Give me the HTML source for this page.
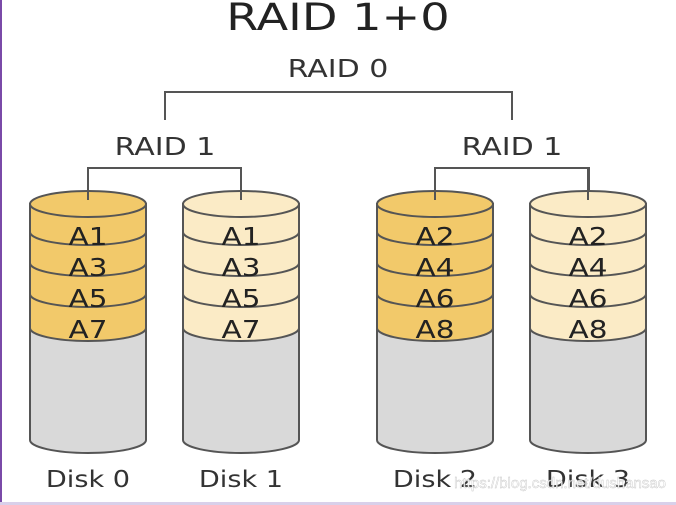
<!DOCTYPE html>
<html><head><meta charset="utf-8"><style>
html,body{margin:0;padding:0;background:#fff;}
svg{display:block;}
</style></head><body>
<svg width="676" height="505" viewBox="0 0 676 505" xmlns="http://www.w3.org/2000/svg" font-family="DejaVu Sans, Liberation Sans, sans-serif">
<rect x="0" y="0" width="676" height="505" fill="#fff"/>
<rect x="0" y="0" width="2" height="505" fill="#7a4aa8"/>
<rect x="0" y="502" width="676" height="3" fill="#d9d0ea"/>
<text transform="translate(338 30) scale(1.25 1)" font-size="37" text-anchor="middle" fill="#222">RAID 1+0</text>
<text transform="translate(338 77) scale(1.2 1)" font-size="25" text-anchor="middle" fill="#333">RAID 0</text>
<path d="M165 120 V92 H512 V120" fill="none" stroke="#555" stroke-width="2"/>
<text transform="translate(165 155) scale(1.2 1)" font-size="25" text-anchor="middle" fill="#333">RAID 1</text>
<text transform="translate(512 155) scale(1.2 1)" font-size="25" text-anchor="middle" fill="#333">RAID 1</text>
<g fill="none" stroke="#555" stroke-width="2">
<path d="M88 200 V168 H241 V190"/>
<path d="M435 200 V168 H589 V190"/>
</g>
<g transform="translate(30,0)">
<path d="M0 204 V440 A58 13 0 0 0 116 440 V204 Z" fill="#d9d9d9" stroke="#555" stroke-width="2"/>
<path d="M0 204 V328 A58 13 0 0 0 116 328 V204 Z" fill="#f2c96a" stroke="none"/>
<path d="M0 328 A58 13 0 0 0 116 328" fill="none" stroke="#555" stroke-width="2"/>
<path d="M0 232 A58 13 0 0 0 116 232 M0 263 A58 13 0 0 0 116 263 M0 294 A58 13 0 0 0 116 294" fill="none" stroke="#555" stroke-width="2"/>
<ellipse cx="58" cy="204" rx="58" ry="13" fill="#f2c96a" stroke="#555" stroke-width="2"/>
<path d="M0 204 V440 M116 204 V440" stroke="#555" stroke-width="2"/>
<path d="M58 200 V168" stroke="#555" stroke-width="2"/>
<g font-size="25" text-anchor="middle" fill="#222"><text transform="translate(58 245) scale(1.18 1)">A1</text><text transform="translate(58 276) scale(1.18 1)">A3</text><text transform="translate(58 307) scale(1.18 1)">A5</text><text transform="translate(58 338) scale(1.18 1)">A7</text></g>
<text transform="translate(58 487) scale(1.18 1)" font-size="23" text-anchor="middle" fill="#333">Disk 0</text>
</g>
<g transform="translate(183,0)">
<path d="M0 204 V440 A58 13 0 0 0 116 440 V204 Z" fill="#d9d9d9" stroke="#555" stroke-width="2"/>
<path d="M0 204 V328 A58 13 0 0 0 116 328 V204 Z" fill="#fbebc6" stroke="none"/>
<path d="M0 328 A58 13 0 0 0 116 328" fill="none" stroke="#555" stroke-width="2"/>
<path d="M0 232 A58 13 0 0 0 116 232 M0 263 A58 13 0 0 0 116 263 M0 294 A58 13 0 0 0 116 294" fill="none" stroke="#555" stroke-width="2"/>
<ellipse cx="58" cy="204" rx="58" ry="13" fill="#fbebc6" stroke="#555" stroke-width="2"/>
<path d="M0 204 V440 M116 204 V440" stroke="#555" stroke-width="2"/>
<path d="M58 200 V168" stroke="#555" stroke-width="2"/>
<g font-size="25" text-anchor="middle" fill="#222"><text transform="translate(58 245) scale(1.18 1)">A1</text><text transform="translate(58 276) scale(1.18 1)">A3</text><text transform="translate(58 307) scale(1.18 1)">A5</text><text transform="translate(58 338) scale(1.18 1)">A7</text></g>
<text transform="translate(58 487) scale(1.18 1)" font-size="23" text-anchor="middle" fill="#333">Disk 1</text>
</g>
<g transform="translate(377,0)">
<path d="M0 204 V440 A58 13 0 0 0 116 440 V204 Z" fill="#d9d9d9" stroke="#555" stroke-width="2"/>
<path d="M0 204 V328 A58 13 0 0 0 116 328 V204 Z" fill="#f2c96a" stroke="none"/>
<path d="M0 328 A58 13 0 0 0 116 328" fill="none" stroke="#555" stroke-width="2"/>
<path d="M0 232 A58 13 0 0 0 116 232 M0 263 A58 13 0 0 0 116 263 M0 294 A58 13 0 0 0 116 294" fill="none" stroke="#555" stroke-width="2"/>
<ellipse cx="58" cy="204" rx="58" ry="13" fill="#f2c96a" stroke="#555" stroke-width="2"/>
<path d="M0 204 V440 M116 204 V440" stroke="#555" stroke-width="2"/>
<path d="M58 200 V168" stroke="#555" stroke-width="2"/>
<g font-size="25" text-anchor="middle" fill="#222"><text transform="translate(58 245) scale(1.18 1)">A2</text><text transform="translate(58 276) scale(1.18 1)">A4</text><text transform="translate(58 307) scale(1.18 1)">A6</text><text transform="translate(58 338) scale(1.18 1)">A8</text></g>
<text transform="translate(58 487) scale(1.18 1)" font-size="23" text-anchor="middle" fill="#333">Disk 2</text>
</g>
<g transform="translate(530,0)">
<path d="M0 204 V440 A58 13 0 0 0 116 440 V204 Z" fill="#d9d9d9" stroke="#555" stroke-width="2"/>
<path d="M0 204 V328 A58 13 0 0 0 116 328 V204 Z" fill="#fbebc6" stroke="none"/>
<path d="M0 328 A58 13 0 0 0 116 328" fill="none" stroke="#555" stroke-width="2"/>
<path d="M0 232 A58 13 0 0 0 116 232 M0 263 A58 13 0 0 0 116 263 M0 294 A58 13 0 0 0 116 294" fill="none" stroke="#555" stroke-width="2"/>
<ellipse cx="58" cy="204" rx="58" ry="13" fill="#fbebc6" stroke="#555" stroke-width="2"/>
<path d="M0 204 V440 M116 204 V440" stroke="#555" stroke-width="2"/>
<path d="M58 200 V168" stroke="#555" stroke-width="2"/>
<g font-size="25" text-anchor="middle" fill="#222"><text transform="translate(58 245) scale(1.18 1)">A2</text><text transform="translate(58 276) scale(1.18 1)">A4</text><text transform="translate(58 307) scale(1.18 1)">A6</text><text transform="translate(58 338) scale(1.18 1)">A8</text></g>
<text transform="translate(58 487) scale(1.18 1)" font-size="23" text-anchor="middle" fill="#333">Disk 3</text>
</g>
<text x="666" y="488" font-size="15" text-anchor="end" fill="#fff" stroke="#bbb" stroke-width="0.4" font-family="Liberation Sans, sans-serif" opacity="0.9">https://blog.csdn.net/dushansao</text>
</svg>
</body></html>
